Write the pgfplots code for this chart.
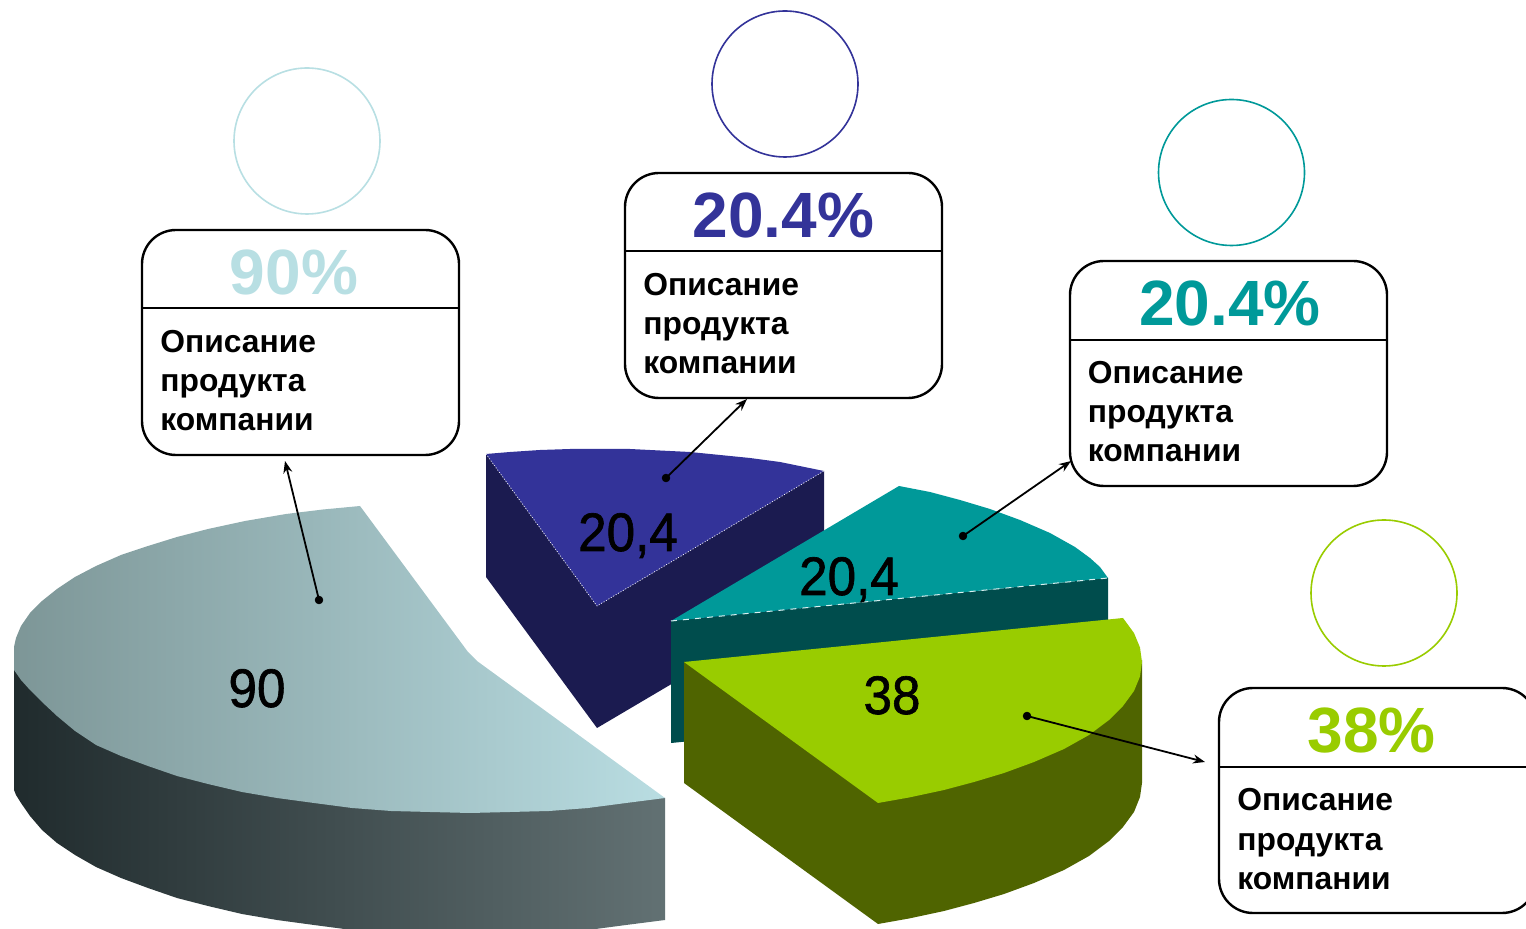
\documentclass[border=0pt]{standalone}
\usepackage{fontspec}
\setmainfont{Liberation Sans}
\newfontfamily\valfont[FakeBold=1.2]{Liberation Sans}
\usepackage{pgfplots}
\pgfplotsset{compat=1.18}
\usetikzlibrary{arrows.meta}
\definecolor{palegrey}{HTML}{B8DFE3}
\definecolor{navy}{HTML}{333399}
\definecolor{navyside}{HTML}{1B1B50}
\definecolor{teal2}{HTML}{009999}
\definecolor{tealside}{HTML}{004D4D}
\definecolor{lime}{HTML}{99CC00}
\definecolor{limeside}{HTML}{4F6400}
\newcommand{\desc}[2]{%
  \node[anchor=base west,font=\fontsize{15.9}{18}\selectfont\bfseries,inner sep=0pt] at (axis cs:#1,#2) {Описание};
  \node[anchor=base west,font=\fontsize{15.9}{18}\selectfont\bfseries,inner sep=0pt] at (axis cs:#1,#2+39) {продукта};
  \node[anchor=base west,font=\fontsize{15.9}{18}\selectfont\bfseries,inner sep=0pt] at (axis cs:#1,#2+78) {компании};
}
\newcommand{\pct}[4]{%
  \node[anchor=base,font=\fontsize{32}{36}\selectfont\bfseries,text=#4,inner sep=0pt] at (axis cs:#1,#2) {#3};
}
\newcommand{\val}[3]{%
  \node[anchor=base,yscale=1.06,transform shape,font=\fontsize{25.6}{28}\valfont,inner sep=0pt] at (axis cs:#1,#2) {#3};
}
\newcommand{\card}[3]{%
  \draw[line width=1.2pt,rounded corners=17pt] (axis cs:#1,#2) rectangle (axis cs:#1+317,#2+225);
  \draw[line width=0.9pt] (axis cs:#1,#3) -- (axis cs:#1+317,#3);
}
\begin{document}
\begin{tikzpicture}
\useasboundingbox (0,0) rectangle (763pt,464.5pt);
\begin{axis}[
  at={(0,0)},anchor=south west,
  width=763pt,height=464.5pt,scale only axis,
  xmin=0,xmax=1526,ymin=0,ymax=929,y dir=reverse,
  axis lines=none,clip=true,
  every axis plot/.append style={line join=round},
]
% pale slice, side
\addplot[draw=none,left color={rgb,255:red,32;green,43;blue,45},right color={rgb,255:red,98;green,113;blue,115}] coordinates {
 (14,653)(14,790)(16,795)(21,803)(30,816)(42,830)(57,843)(75,855)(96,867)(121,878)(148,888)(177,898)(208,906)(242,914)(277,920)(314,925)(352,930)(391,933)(430,934)(470,935)(510,934)(549,933)(588,930)(626,925)(665,920)(665,798)} -- cycle;
% pale slice, top
\addplot[draw=none,left color={rgb,255:red,125;green,150;blue,151},right color={rgb,255:red,185;green,221;blue,226}] coordinates {
 (360,506)(323,509.5)(286,514)(245,521)(208,529)(177,537)(148,546)(121,555)(96,566)(75,577)(57,589)(42,601)(30,613)(21,626)(16,638)(14,647)(14,670)(21,680)(30,690)(42,702)(57,716)(75,731)(96,745)(121,756)(148,766)(177,776)(208,784)(242,792)(277,798)(314,803)(352,808)(391,811)(430,812)(470,813)(510,812)(549,811)(588,808)(626,803)(665,798)(477,661)(468,652)} -- cycle;
% navy slice
\addplot[draw=none,fill=navyside] coordinates {(486,454)(486,577)(597,728)(824,594)(824,471)(597,606)} -- cycle;
\addplot[draw=none,fill=navy] coordinates {(486,454)(510,452)(540,450)(570,449)(597,449)(630,449)(660,450.5)(690,452)(720,455)(750,458)(780,462)(824,471)(597,606)} -- cycle;
\addplot[white,densely dotted,line width=0.4pt] coordinates {(486,454)(597,606)(824,471)};
% teal slice
\addplot[draw=none,fill=tealside] coordinates {(671,621)(671,743)(1108,700)(1108,578)} -- cycle;
\addplot[draw=none,fill=teal2] coordinates {(671,621)(899,486)(930,492)(960,500)(990,509)(1020,520)(1050,533)(1075,547)(1090,558)(1100,567)(1108,578)} -- cycle;
\addplot[white!85!teal2,dashed,line width=0.5pt] coordinates {(671,621)(1108,578)};
% lime slice
\addplot[draw=none,fill=limeside] coordinates {(684,662)(684,783)(878,924)(909,918.5)(944,911)(974,903)(1004,894)(1034,883)(1064,870)(1089,856)(1109,841)(1123,827)(1134,812)(1140,797)(1142,783)(1142,660)} -- cycle;
\addplot[draw=none,fill=lime] coordinates {(684,662)(1123,618)(1134,633)(1140,647.5)(1142,662)(1140,676.5)(1134,691)(1123,706)(1109,720)(1089,735)(1064,749)(1034,762)(1004,773)(974,782)(944,790)(909,797.5)(878,803)} -- cycle;
% circles
\addplot[only marks,mark=*,mark size=36.5pt,mark options={draw=palegrey,fill=white,line width=0.8pt}] coordinates {(307,141)};
\addplot[only marks,mark=*,mark size=36.5pt,mark options={draw=navy,fill=white,line width=0.8pt}] coordinates {(785,84)};
\addplot[only marks,mark=*,mark size=36.5pt,mark options={draw=teal2,fill=white,line width=0.8pt}] coordinates {(1231.5,172.5)};
\addplot[only marks,mark=*,mark size=36.5pt,mark options={draw=lime,fill=white,line width=0.8pt}] coordinates {(1384,593)};
% cards
\card{142}{230}{308}
\card{625}{173}{251}
\card{1070}{261}{340}
\card{1219}{688}{767}
\pct{294}{295}{90\%}{palegrey}
\pct{783.5}{238}{20.4\%}{navy}
\pct{1230}{326}{20.4\%}{teal2}
\pct{1371.5}{753}{38\%}{lime}
\desc{160}{353}
\desc{643}{296}
\desc{1087.5}{384}
\desc{1237}{811}
% value labels
\val{257}{707}{90}
\val{628}{551}{20,4}
\val{849}{595}{20,4}
\val{892}{714}{38}
% leaders
\addplot[line width=0.9pt,-{Stealth[length=6pt,width=4.5pt]}] coordinates {(319,600)(285,461)};
\addplot[line width=0.9pt,-{Stealth[length=6pt,width=4.5pt]}] coordinates {(666,478)(747,399)};
\addplot[line width=0.9pt,-{Stealth[length=6pt,width=4.5pt]}] coordinates {(963,536)(1071,461)};
\addplot[line width=0.9pt,-{Stealth[length=6pt,width=4.5pt]}] coordinates {(1027,716)(1205,762)};
\addplot[only marks,mark=*,mark size=1.9pt,black] coordinates {(319,600)(666,478)(963,536)(1027,716)};
\end{axis}
\end{tikzpicture}
\end{document}
